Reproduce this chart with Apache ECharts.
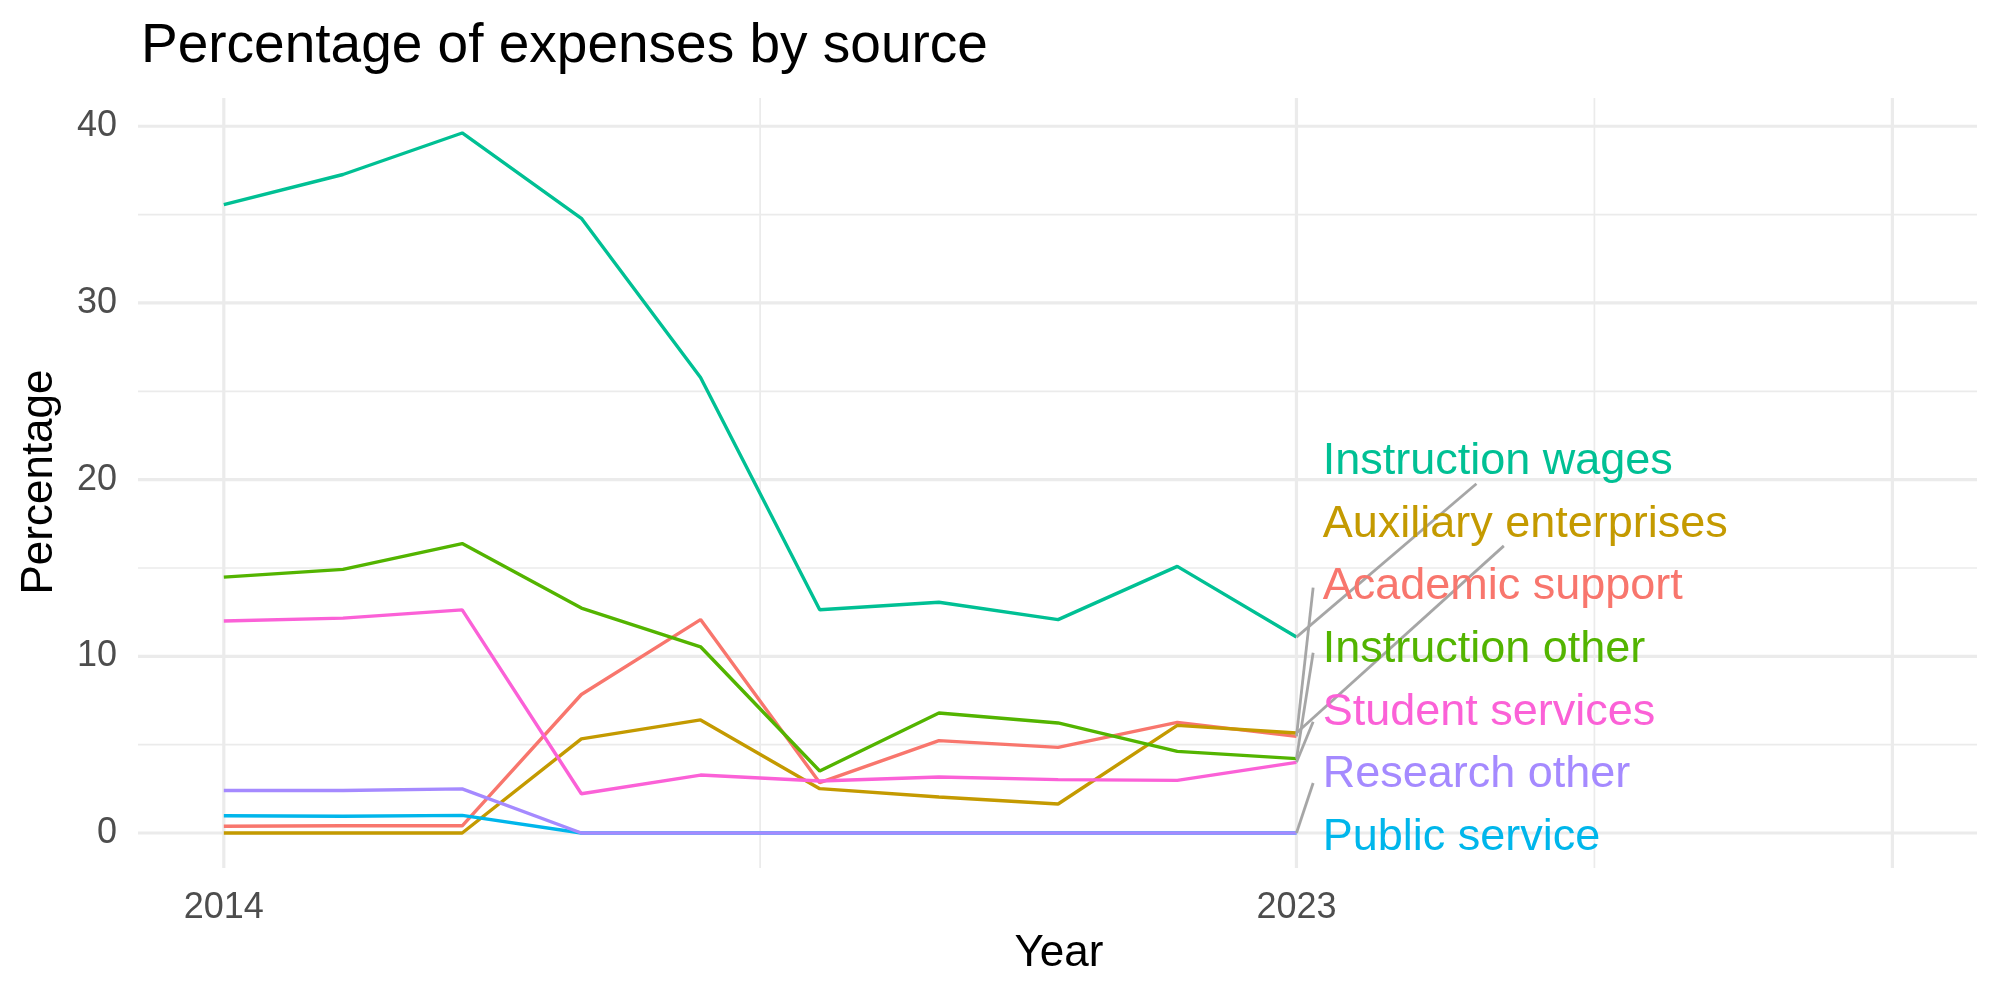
<!DOCTYPE html>
<html>
<head>
<meta charset="utf-8">
<script src="https://cdn.jsdelivr.net/npm/echarts@6/dist/echarts.min.js"></script>
<style>html,body{margin:0;padding:0;background:#fff}#c{width:2000px;height:1000px}</style>
</head>
<body>
<div id="c"></div>
<script>
const years = [2014, 2015, 2016, 2017, 2018, 2019, 2020, 2021, 2022, 2023];
const academicSupport      = [0.38, 0.41, 0.41, 7.84, 12.08, 2.85, 5.23, 4.85, 6.26, 5.47];
const auxiliaryEnterprises = [0.00, 0.00, 0.00, 5.33, 6.40, 2.51, 2.04, 1.64, 6.09, 5.66];
const instructionOther     = [14.48, 14.92, 16.38, 12.73, 10.54, 3.51, 6.79, 6.23, 4.62, 4.21];
const instructionWages     = [35.56, 37.27, 39.62, 34.79, 25.78, 12.64, 13.06, 12.08, 15.09, 11.09];
const publicService        = [0.98, 0.95, 1.00, 0, 0, 0, 0, 0, 0, 0];
const researchOther        = [2.41, 2.41, 2.50, 0, 0, 0, 0, 0, 0, 0];
const studentServices      = [12.00, 12.16, 12.63, 2.22, 3.28, 2.94, 3.17, 3.02, 2.98, 4.00];

const seriesNames = ['Academic support', 'Auxiliary enterprises', 'Instruction other', 'Instruction wages', 'Public service', 'Research other', 'Student services'];
const seriesValues = [academicSupport, auxiliaryEnterprises, instructionOther, instructionWages, publicService, researchOther, studentServices];
const colors = ['#F8766D', '#C49A00', '#53B400', '#00C094', '#00B6EB', '#A58AFF', '#FB61D7'];

// repelled label positions (data coords), top to bottom
const labelOrder = ['Instruction wages', 'Auxiliary enterprises', 'Academic support', 'Instruction other', 'Student services', 'Research other', 'Public service'];
const labelX = 2023.22;
const labelY = [21.0, 17.46, 13.92, 10.38, 6.84, 3.30, -0.24];
// segment ends for labels (null = no segment)
const segEndX = [2024.51, 2024.74, 2023.14, 2023.14, 2023.14, 2023.14, null];
const segEndY = [19.77, 16.25, 13.89, 10.2, 6.3, 2.83, null];

const xTicks = [2014, 2023];
const yTicks = [0, 10, 20, 30, 40];
const xGridMajor = [2014, 2023, 2028];
const xGridMinor = [2018.5, 2025.5];
const yGridMajor = [0, 10, 20, 30, 40];
const yGridMinor = [5, 15, 25, 35];

const X_MIN = 2013.28, X_MAX = 2028.71, Y_MIN = -1.98, Y_MAX = 41.6;
const FONT = 'Liberation Sans, Arial, Helvetica, sans-serif';
const GRID = '#EBEBEB';

const chart = echarts.init(document.getElementById('c'), null, {renderer: 'canvas'});

const gridData = [];
xGridMajor.forEach(v => gridData.push([v, 0, 1, 1]));
xGridMinor.forEach(v => gridData.push([v, 0, 1, 0]));
yGridMajor.forEach(v => gridData.push([X_MIN, v, 0, 1]));
yGridMinor.forEach(v => gridData.push([X_MIN, v, 0, 0]));

const series = [];
series.push({
  type: 'custom', z: 1, silent: true, clip: false,
  data: gridData,
  renderItem: function (params, api) {
    const cs = params.coordSys;
    const vertical = api.value(2) === 1;
    const w = api.value(3) === 1 ? 3.2 : 1.7;
    if (vertical) {
      const x = api.coord([api.value(0), Y_MIN])[0];
      return {type: 'line', shape: {x1: x, y1: cs.y, x2: x, y2: cs.y + cs.height}, style: {stroke: GRID, lineWidth: w}};
    } else {
      const y = api.coord([X_MIN, api.value(1)])[1];
      return {type: 'line', shape: {x1: cs.x, y1: y, x2: cs.x + cs.width, y2: y}, style: {stroke: GRID, lineWidth: w}};
    }
  }
});

seriesNames.forEach((n, i) => {
  series.push({
    name: n, type: 'line', z: 2 + i,
    data: years.map((y, k) => [y, seriesValues[i][k]]),
    symbol: 'none', smooth: false,
    lineStyle: {color: colors[i], width: 3.4},
    itemStyle: {color: colors[i]},
    emphasis: {disabled: true}
  });
});

// segments
const segData = [];
labelOrder.forEach((n, j) => {
  if (segEndX[j] === null) return;
  const i = seriesNames.indexOf(n);
  segData.push([years[years.length - 1], seriesValues[i][years.length - 1], segEndX[j], segEndY[j]]);
});
series.push({
  type: 'custom', z: 20, silent: true, clip: false,
  data: segData,
  renderItem: function (params, api) {
    const p1 = api.coord([api.value(0), api.value(1)]);
    const p2 = api.coord([api.value(2), api.value(3)]);
    return {type: 'line', shape: {x1: p1[0], y1: p1[1], x2: p2[0], y2: p2[1]}, style: {stroke: '#A6A6A6', lineWidth: 2.8}};
  }
});

// labels
series.push({
  type: 'custom', z: 30, silent: true, clip: false,
  data: labelY.map(v => [labelX, v]),
  renderItem: function (params, api) {
    const j = params.dataIndex;
    const i = seriesNames.indexOf(labelOrder[j]);
    const p = api.coord([api.value(0), api.value(1)]);
    return {type: 'text', x: p[0], y: p[1], style: {text: labelOrder[j], fill: colors[i], font: '45px ' + FONT, align: 'left', verticalAlign: 'middle'}};
  }
});

chart.setOption({
  animation: false,
  backgroundColor: '#ffffff',
  grid: {left: 138, right: 23, top: 98, bottom: 132, containLabel: false},
  xAxis: {
    type: 'value', min: X_MIN, max: X_MAX,
    axisLine: {show: false}, axisTick: {show: false}, splitLine: {show: false},
    axisLabel: {customValues: xTicks, formatter: v => String(v), color: '#4D4D4D', fontSize: 36, fontFamily: FONT, margin: 22}
  },
  yAxis: {
    type: 'value', min: Y_MIN, max: Y_MAX,
    axisLine: {show: false}, axisTick: {show: false}, splitLine: {show: false},
    axisLabel: {customValues: yTicks, formatter: v => String(v), color: '#4D4D4D', fontSize: 36, fontFamily: FONT, margin: 21}
  },
  graphic: [
    {type: 'text', left: 141, top: 19, style: {text: 'Percentage of expenses by source', fill: '#000', font: '55px ' + FONT}},
    {type: 'text', x: 1059, y: 954, style: {text: 'Year', fill: '#000', font: '44px ' + FONT, align: 'center', verticalAlign: 'middle'}},
    {type: 'text', x: 40, y: 482, rotation: Math.PI / 2, style: {text: 'Percentage', fill: '#000', font: '44px ' + FONT, align: 'center', verticalAlign: 'middle'}}
  ],
  series: series
});
</script>
</body>
</html>
